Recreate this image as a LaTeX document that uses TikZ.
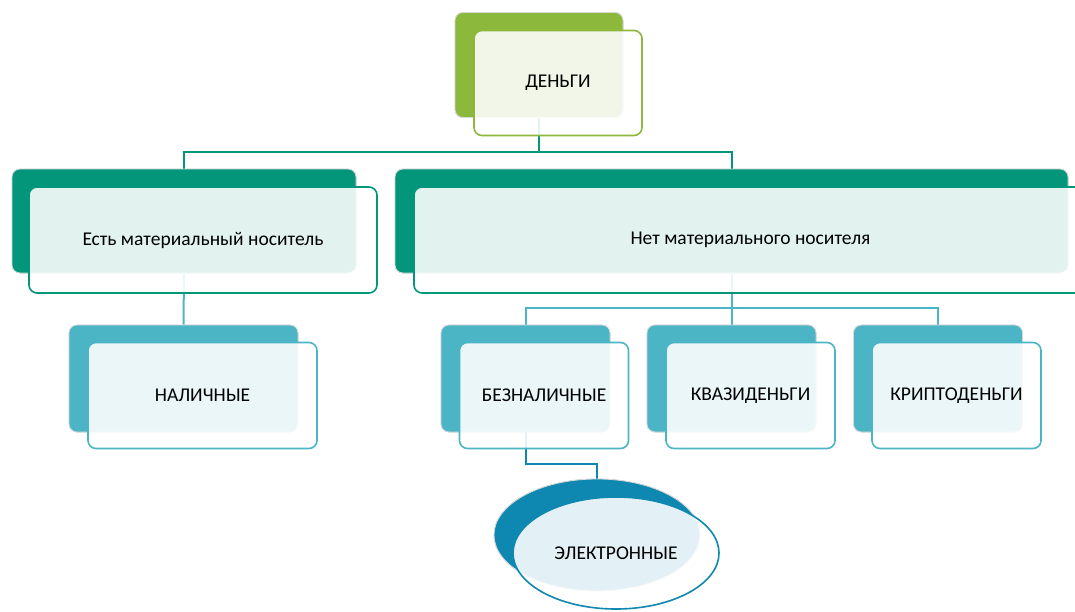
\documentclass[tikz,border=0pt]{standalone}
\usepackage{fontspec}
\setmainfont{Carlito}
\usetikzlibrary{shapes.geometric}
\definecolor{cgreen}{HTML}{8CB83C}
\definecolor{cteal}{HTML}{03967A}
\definecolor{ccyan}{HTML}{4BB5C6}
\definecolor{cblue}{HTML}{0E88B0}
\tikzset{
  backbox/.style={rectangle, rounded corners=8pt, draw=black!15, line width=0.8pt, inner sep=0pt},
  frontbox/.style={rectangle, rounded corners=8pt, fill=white, fill opacity=0.886, text opacity=1, line width=1.6pt, inner sep=0pt, font=\fontsize{19.5}{22}\selectfont, text=black},
  big/.style={minimum width=168pt, minimum height=105pt},
  conn/.style={line width=2pt},
}
\begin{document}
\begin{tikzpicture}[x=1pt,y=-1pt]
\useasboundingbox (0,0) rectangle (1075,611);
% connector junctions
\coordinate (j1) at (539,152);
\coordinate (j2) at (731.5,308);
\coordinate (j3) at (597,464);
% back nodes (placed first for names)
\path
  (539,65)    node[backbox, big, fill=cgreen] (mb) {}
  (184,221)   node[backbox, fill=cteal, minimum width=344pt, minimum height=104pt] (eb) {}
  (731.5,221) node[backbox, fill=cteal, minimum width=673pt, minimum height=104pt] (nb) {}
  (183.5,378.5) node[backbox, fill=ccyan, minimum width=229pt, minimum height=107pt] (nalb) {}
  (525.5,378.5) node[backbox, fill=ccyan, minimum width=169pt, minimum height=107pt] (bezb) {}
  (731.5,378.5) node[backbox, fill=ccyan, minimum width=169pt, minimum height=107pt] (kvb) {}
  (938,378.5)   node[backbox, fill=ccyan, minimum width=169pt, minimum height=107pt] (krb) {}
  (597,535)   node[ellipse, draw=black!15, line width=0.8pt, fill=cblue, minimum width=206pt, minimum height=112pt, inner sep=0pt] (elb) {};
% connectors
\draw[conn, cteal] (mb.south) -- (j1);
\draw[conn, cteal] (eb.north) |- (j1) -| (nb.north);
\draw[conn, ccyan] (eb.south) -- (nalb.north);
\draw[conn, ccyan] (nb.south) -- (j2);
\draw[conn, ccyan] (bezb.north) |- (j2) -| (krb.north);
\draw[conn, ccyan] (j2) -- (kvb.north);
\draw[conn, cblue] (bezb.south) |- (j3) -- (elb.north);
% back nodes redrawn over connectors
\path
  (539,65)    node[backbox, big, fill=cgreen] {}
  (184,221)   node[backbox, fill=cteal, minimum width=344pt, minimum height=104pt] {}
  (731.5,221) node[backbox, fill=cteal, minimum width=673pt, minimum height=104pt] {}
  (183.5,378.5) node[backbox, fill=ccyan, minimum width=229pt, minimum height=107pt] {}
  (525.5,378.5) node[backbox, fill=ccyan, minimum width=169pt, minimum height=107pt] {}
  (731.5,378.5) node[backbox, fill=ccyan, minimum width=169pt, minimum height=107pt] {}
  (938,378.5)   node[backbox, fill=ccyan, minimum width=169pt, minimum height=107pt] {}
  (597,535)   node[ellipse, draw=black!15, line width=0.8pt, fill=cblue, minimum width=206pt, minimum height=112pt, inner sep=0pt] {};
% front nodes
\node[frontbox, big, draw=cgreen] (m) at (558,83) {ДЕНЬГИ};
\node[frontbox, draw=cteal, minimum width=348pt, minimum height=106pt] (e) at (203,240) {Есть материальный носитель};
\node[frontbox, draw=cteal, minimum width=673pt, minimum height=106pt] (n) at (750.5,240) {Нет материального носителя};
\node[frontbox, draw=ccyan, minimum width=229pt, minimum height=106pt] (nal) at (202.5,395.5) {НАЛИЧНЫЕ};
\node[frontbox, draw=ccyan, minimum width=169pt, minimum height=106pt] (bez) at (544,395.5) {БЕЗНАЛИЧНЫЕ};
\node[frontbox, draw=ccyan, minimum width=169pt, minimum height=106pt] (kv) at (750.5,395.5) {КВАЗИДЕНЬГИ};
\node[frontbox, draw=ccyan, minimum width=169pt, minimum height=106pt] (kr) at (956.5,395.5) {КРИПТОДЕНЬГИ};
\node[frontbox, ellipse, rounded corners=0pt, draw=cblue, minimum width=206pt, minimum height=112pt] (el) at (616,553) {\raisebox{-3pt}{ЭЛЕКТРОННЫЕ}};
\end{tikzpicture}
\end{document}
